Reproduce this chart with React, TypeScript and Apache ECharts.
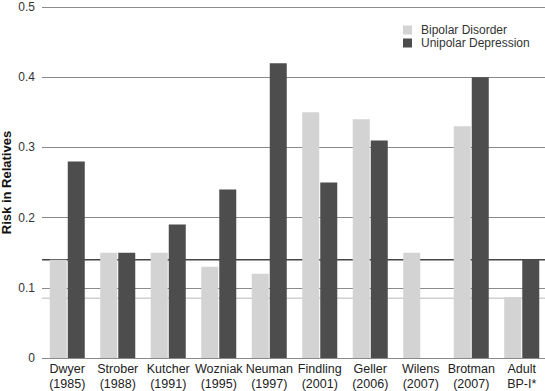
import React, { useEffect, useRef } from "react";
import * as echarts from "echarts";

const categories = [
  "Dwyer\n(1985)",
  "Strober\n(1988)",
  "Kutcher\n(1991)",
  "Wozniak\n(1995)",
  "Neuman\n(1997)",
  "Findling\n(2001)",
  "Geller\n(2006)",
  "Wilens\n(2007)",
  "Brotman\n(2007)",
  "Adult\nBP-I*",
];
const bipolar = [0.14, 0.15, 0.15, 0.13, 0.12, 0.35, 0.34, 0.15, 0.33, 0.087];
const unipolar: (number | null)[] = [0.28, 0.15, 0.19, 0.24, 0.42, 0.25, 0.31, null, 0.4, 0.14];
const unipolarRef = 0.14;
const bipolarRef = 0.085;

export default function App() {
  const ref = useRef<HTMLDivElement>(null);
  useEffect(() => {
    if (!ref.current) return;
    const chart = echarts.init(ref.current, null, { renderer: "svg" });
    chart.setOption({
      animation: false,
      backgroundColor: "#ffffff",
      textStyle: { fontFamily: "Liberation Sans, Arial, sans-serif" },
      grid: {
        left: 42,
        right: -2,
        top: 7,
        bottom: 33,
        containLabel: false,
        outerBoundsMode: "none",
      },
      legend: {
        data: ["Bipolar Disorder", "Unipolar Depression"],
        orient: "vertical",
        left: 403,
        top: 24,
        itemWidth: 9,
        itemHeight: 9,
        itemGap: 1,
        icon: "rect",
        padding: 0,
        textStyle: { fontSize: 12, color: "#333", padding: [0, 0, 0, 4] },
      },
      xAxis: [
        {
          type: "category",
          data: categories,
          axisLine: { show: false },
          axisTick: { show: false },
          axisLabel: { fontSize: 12.5, color: "#222", lineHeight: 14.5, margin: 4, interval: 0 },
        },
        { type: "value", min: 0, max: 1, show: false },
      ],
      yAxis: {
        type: "value",
        min: 0,
        max: 0.5,
        interval: 0.1,
        name: "Risk in Relatives",
        nameLocation: "middle",
        nameGap: 29,
        nameMoveOverlap: false,
        nameTextStyle: { fontSize: 13, fontWeight: "bold", color: "#111" },
        axisLine: { show: false },
        axisTick: { show: false },
        axisLabel: { fontSize: 12, color: "#333", margin: 7 },
        splitLine: { lineStyle: { color: "#8a8a8a", width: 1 } },
      },
      series: [
        {
          type: "line",
          xAxisIndex: 1,
          data: [
            [0, unipolarRef],
            [1, unipolarRef],
          ],
          symbol: "none",
          silent: true,
          z: 1,
          lineStyle: { color: "#444", width: 1.5 },
        },
        {
          type: "line",
          xAxisIndex: 1,
          data: [
            [0, bipolarRef],
            [1, bipolarRef],
          ],
          symbol: "none",
          silent: true,
          z: 1,
          lineStyle: { color: "#d0d0d0", width: 1.5 },
        },
        {
          name: "Bipolar Disorder",
          type: "bar",
          data: bipolar,
          barWidth: 17,
          barGap: "6%",
          z: 3,
          itemStyle: { color: "#d3d3d3" },
        },
        {
          name: "Unipolar Depression",
          type: "bar",
          data: unipolar,
          barWidth: 17,
          barGap: "6%",
          z: 3,
          itemStyle: { color: "#4d4d4d" },
        },
      ],
    });
    return () => chart.dispose();
  }, []);
  return (
    <div
      ref={ref}
      style={{ position: "fixed", left: 0, top: 0, width: 545, height: 391 }}
    />
  );
}
